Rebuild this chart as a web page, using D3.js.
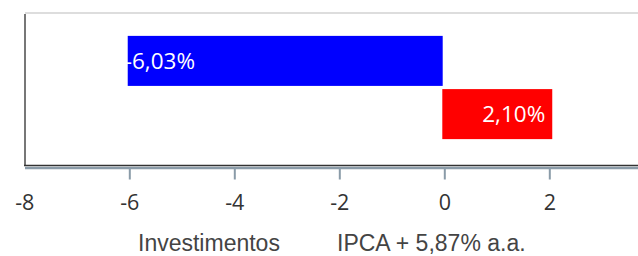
<!DOCTYPE html>
<html>
<head>
<meta charset="utf-8">
<script src="https://cdn.jsdelivr.net/npm/d3@7"></script>
<style>
  body { margin: 0; background: #fff; }
  svg { display: block; }
  .tick-axis path.domain { stroke: #8a9ba8; stroke-width: 2.4; }
  .tick-axis .tick line { stroke: #8a9ba8; stroke-width: 2; }
  .tick-axis .tick text { font-family: "Open Sans", sans-serif; font-size: 21.5px; fill: #333; }
  .legend text { font-family: "Liberation Sans", Arial, sans-serif; font-size: 23px; fill: #444; }
  .bar-label { font-family: "Open Sans", sans-serif; font-size: 22.5px; fill: #fff; }
</style>
</head>
<body>
<svg id="chart" width="638" height="256"></svg>
<script>
// chart data
const categories = ["Investimentos", "IPCA + 5,87% a.a."];
const values = [-6.03, 2.10];
const labels = ["-6,03%", "2,10%"];
const colors = ["#0000ff", "#ff0000"];
const tickValues = [-8, -6, -4, -2, 0, 2];

const svg = d3.select("#chart");
const W = +svg.attr("width");

const x = d3.scaleLinear().domain([-8, 4]).range([24.3, 654.3]);
const y = d3.scaleBand().domain(categories).range([13, 162])
            .paddingInner(0.06).paddingOuter(0.43);

// bars sit a touch left of the axis ticks in the original
const barLeft = d => d < 0 ? x(d) : x(0) - 2;
const barRight = d => d < 0 ? x(0) - 1.6 : x(d) - 2.3;

// frame lines
svg.append("line")
   .attr("x1", 25).attr("x2", W).attr("y1", 13).attr("y2", 13)
   .attr("stroke", "#dddddd").attr("stroke-width", 2);
svg.append("line")
   .attr("x1", 25).attr("x2", 25).attr("y1", 14).attr("y2", 166)
   .attr("stroke", "#777").attr("stroke-width", 2);

// bars
svg.selectAll(".bar")
   .data(values)
   .enter().append("rect")
   .attr("class", "bar")
   .attr("x", barLeft)
   .attr("y", (d, i) => y(categories[i]))
   .attr("width", d => barRight(d) - barLeft(d))
   .attr("height", y.bandwidth())
   .attr("fill", (d, i) => colors[i]);

svg.selectAll(".bar-label")
   .data(values)
   .enter().append("text")
   .attr("class", "bar-label")
   .attr("x", d => d < 0 ? barLeft(d) - 3 : barRight(d) - 7)
   .attr("y", (d, i) => y(categories[i]) + y.bandwidth() / 2 + 8)
   .style("text-anchor", d => d < 0 ? "start" : "end")
   .text((d, i) => labels[i]);

// bottom axis
svg.append("line")
   .attr("x1", 24).attr("x2", W).attr("y1", 165.5).attr("y2", 165.5)
   .attr("stroke", "#333").attr("stroke-width", 1.5);

const xAxis = svg.append("g")
   .attr("class", "tick-axis")
   .attr("transform", "translate(0,168)")
   .call(d3.axisBottom(x).tickValues(tickValues).tickFormat(d => String(d))
           .tickSize(11.5).tickSizeOuter(0).tickPadding(15));

xAxis.select("path.domain").attr("d", `M25,0H${W + 20}`);
xAxis.selectAll(".tick").filter(d => d === -8).select("line").remove();
xAxis.selectAll(".tick text").attr("dy", "0.71em");

// legend text
const legend = svg.append("g").attr("class", "legend");
legend.selectAll("text")
   .data(categories)
   .enter().append("text")
   .attr("x", (d, i) => [138, 337][i])
   .attr("y", 251)
   .text(d => d);
</script>
</body>
</html>
